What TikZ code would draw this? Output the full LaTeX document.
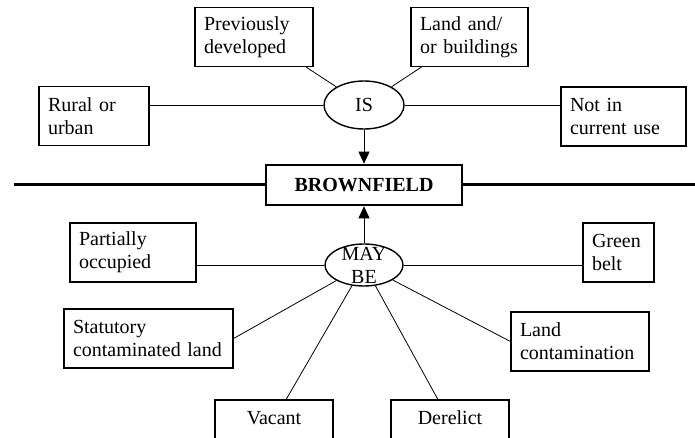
\documentclass[tikz,border=0pt]{standalone}
\usepackage{fontspec}
\setmainfont{Liberation Serif}
\usetikzlibrary{arrows.meta,shapes.geometric}

\begin{document}
\begin{tikzpicture}[x=1pt,y=-1pt,
  every node/.style={font=\fontsize{20}{23}\selectfont},
  tbox/.style={draw, line width=1.1pt, rectangle, inner xsep=9pt, inner ysep=0pt,
               minimum height=59pt, align=left, text width=#1},
  cbox/.style={tbox=#1, align=center},
  oval/.style={draw, ellipse, line width=1.4pt, inner sep=0pt},
  link/.style={line width=0.8pt},
  main/.style={draw, line width=2.6pt, minimum width=196pt, minimum height=40pt,
               inner sep=0pt, font=\fontsize{20}{23}\selectfont\bfseries},
  rule/.style={line width=3pt},
  feed/.style={line width=0.9pt, -{Triangle[width=11pt,length=12pt]}}
]
\useasboundingbox (0,0) rectangle (695,438);
\clip (0,0) rectangle (695,438);

% central concept and dividing rule
\node[main] (bf) at (364,185) {BROWNFIELD};
\coordinate (lend) at (14,185);
\coordinate (rend) at (695,185);
\draw[rule] (lend) -- (bf.west);
\draw[rule] (bf.east) -- (rend);

% upper half: what brownfield land IS
\node[oval, minimum width=80pt, minimum height=48pt] (is) at (364,105) {IS};
\node[tbox=100pt] (prev)  at (254,37)    {Previously\\developed};
\node[tbox=99pt]  (land)  at (469.5,37)  {Land and/\\or buildings};
\node[tbox=92pt]  (rural) at (94,116)    {Rural or\\urban};
\node[tbox=107pt] (notin) at (623.5,116.5) {Not in\\current use};

\draw[link] (is) -- (prev.-30.5);
\draw[link] (is) -- (land.-148);
\draw[link] (is.west) -- (is.west -| rural.east);
\draw[link] (is.east) -- (is.east -| notin.west);
\draw[feed] (is) -- (bf);

% lower half: what brownfield land MAY BE
\node[oval, minimum width=78pt, minimum height=42pt] (may) at (364,265) {};
\node[align=center, inner sep=0pt] (maytext) at (364,265) {MAY\\BE};
\node[tbox=108pt] (partial) at (133,252.5)  {Partially\\occupied};
\node[tbox=53pt]  (green)   at (618.5,252.5) {Green\\belt};
\node[tbox=151pt] (stat)    at (148.5,338.5) {Statutory\\contaminated land};
\node[tbox=120pt] (landc)   at (580,341.5)  {Land\\contamination};
\node[cbox=100pt] (vac)     at (274,429.5)  {Vacant\\\mbox{}};
\node[cbox=100pt] (der)     at (450,429.5)  {Derelict\\\mbox{}};

\draw[feed] (may) -- (bf);
\draw[link] (may.west) -- (may.west -| partial.east);
\draw[link] (may.east) -- (may.east -| green.west);
\draw[link] (may) -- (stat.east);
\draw[link] (may) -- (landc.west);
\draw[link] (may) -- (vac.68);
\draw[link] (may) -- (der.112);
\end{tikzpicture}
\end{document}
